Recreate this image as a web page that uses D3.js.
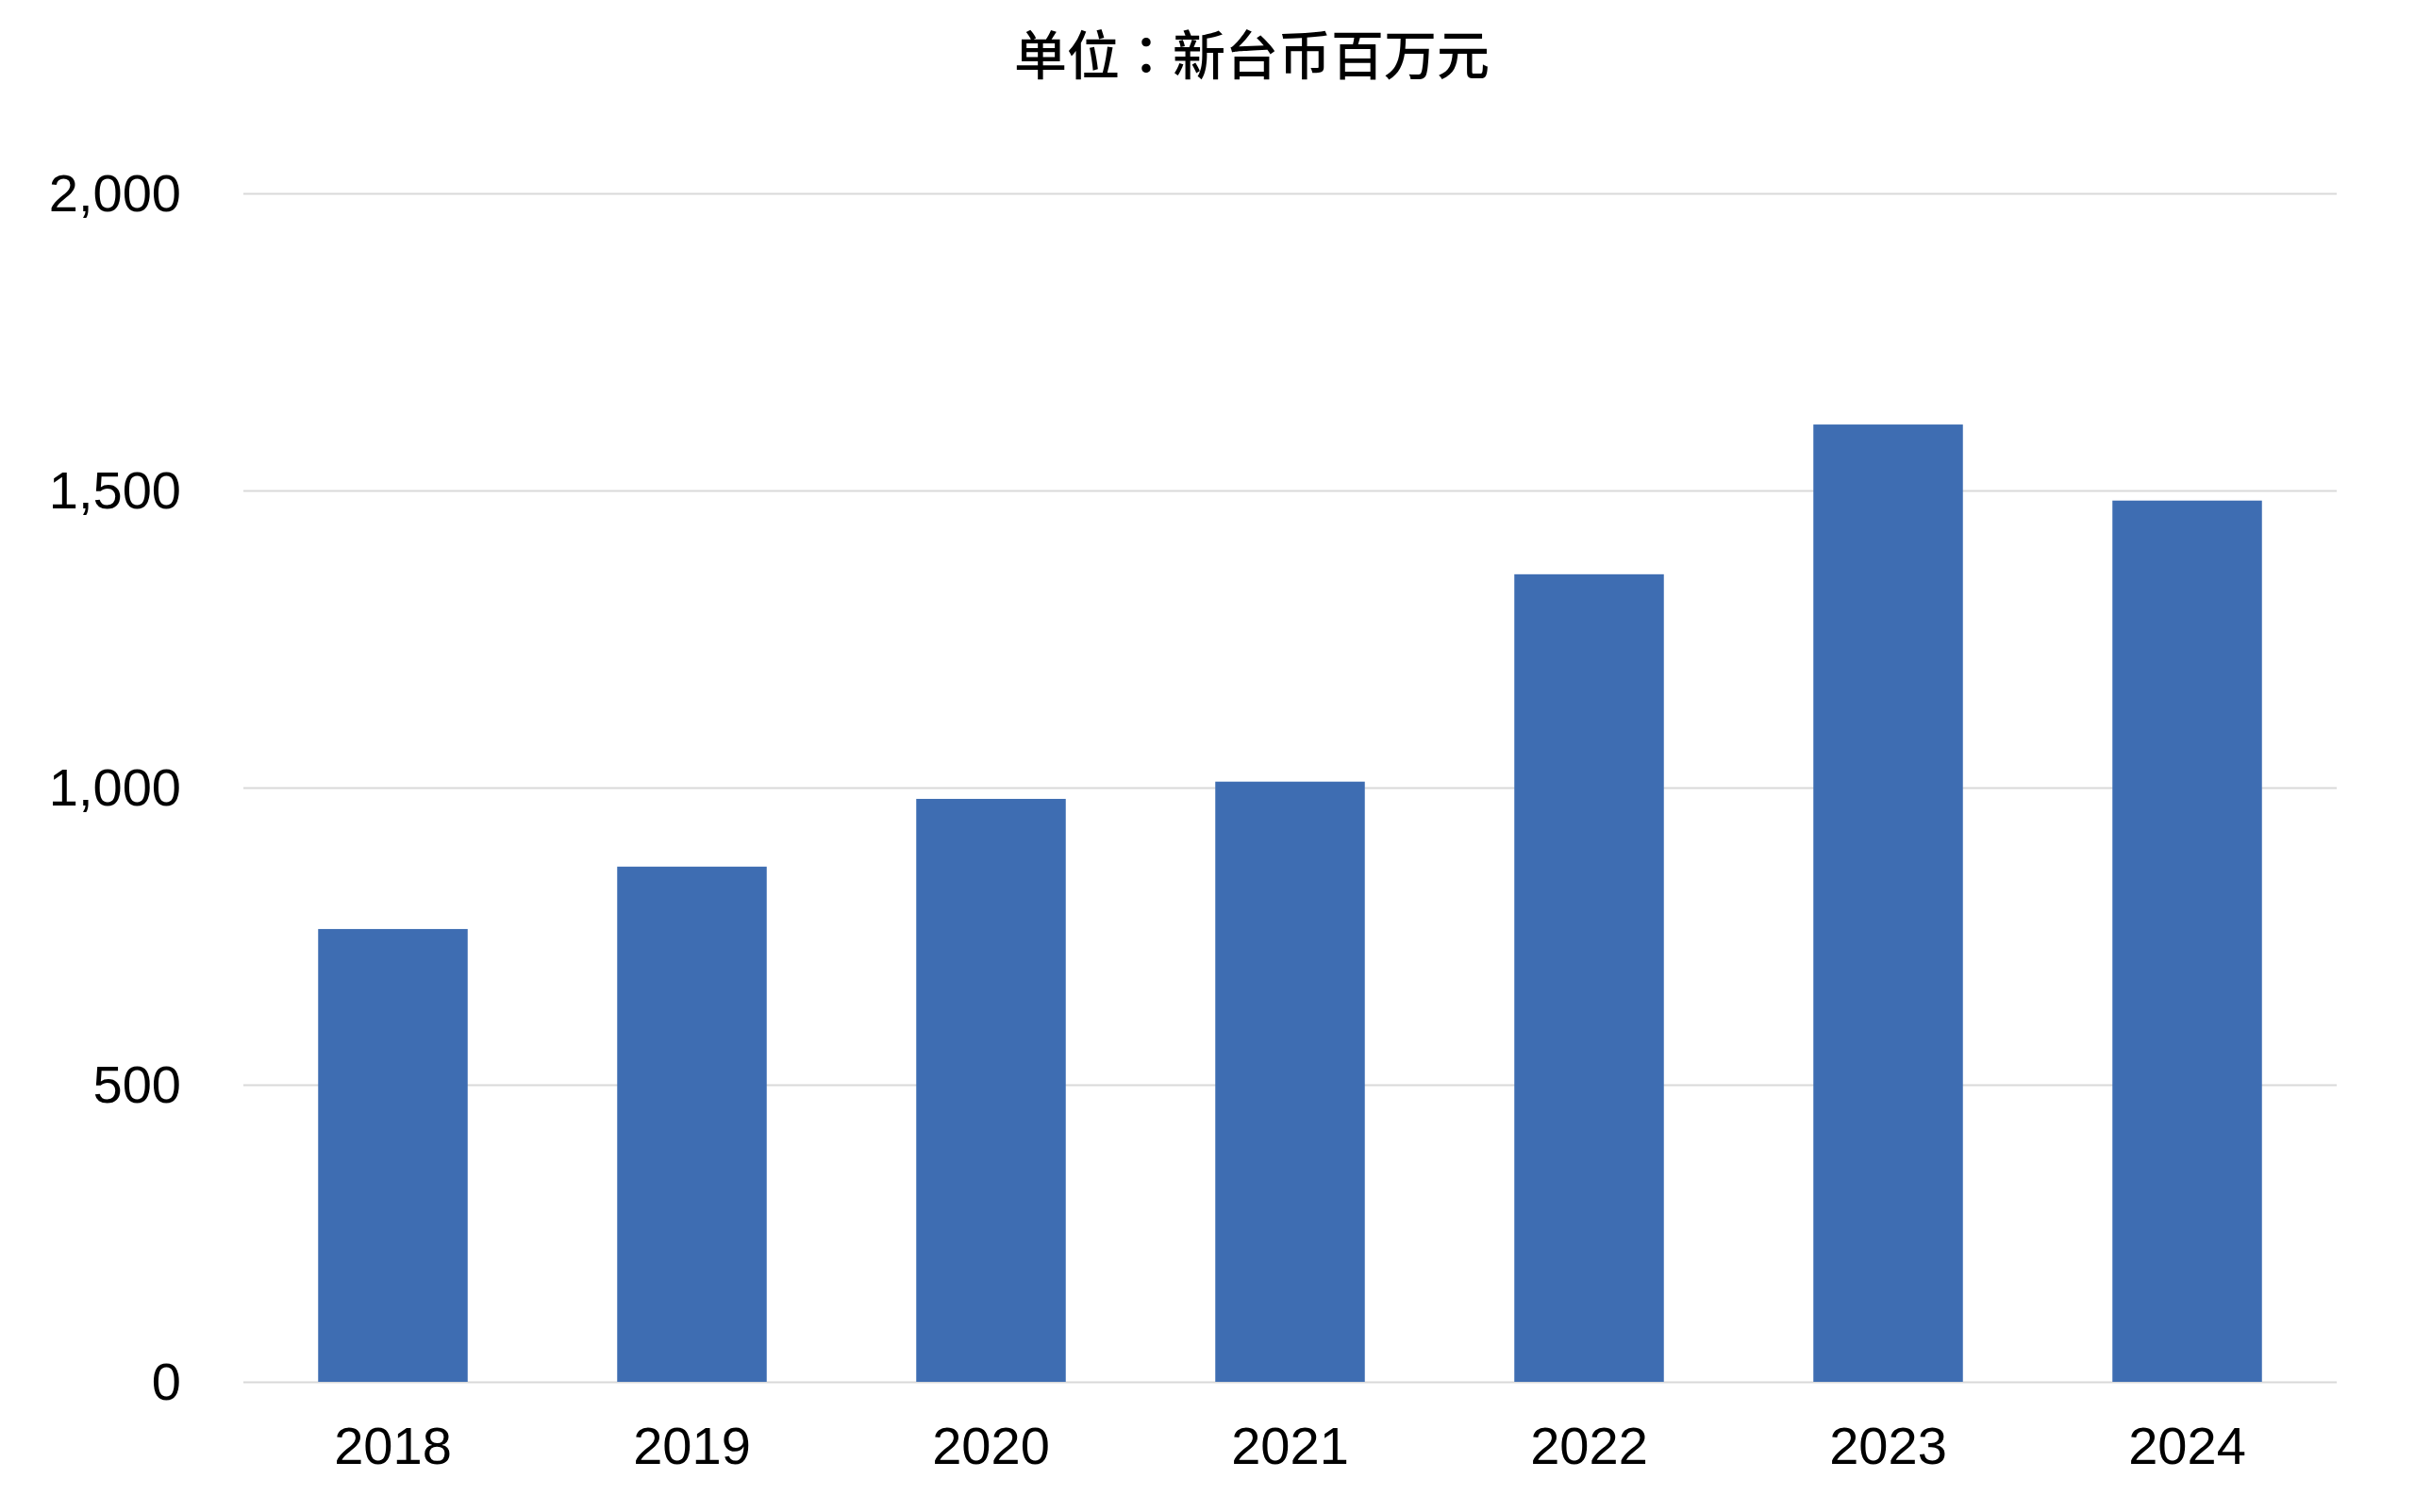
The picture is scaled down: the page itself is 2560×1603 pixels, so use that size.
<!DOCTYPE html>
<html><head><meta charset="utf-8">
<script src="https://cdn.jsdelivr.net/npm/d3@7"></script>
<style>html,body{margin:0;padding:0;background:#fff;}</style>
</head><body>
<svg id="chart" width="2560" height="1603"></svg>
<script>
const categories = ["2018","2019","2020","2021","2022","2023","2024"];
const values = [762, 867, 981, 1010, 1359, 1611, 1483];
const yTicks = [0, 500, 1000, 1500, 2000];
const title = "单位：新台币百万元";

(function(){
const svg = d3.select("#chart");
const mLeft = 258, mRight = 2477, mTop = 205, mBottom = 1465;

const x = d3.scaleBand().domain(categories).range([mLeft, mRight]).paddingInner(0.5).paddingOuter(0.25);
const y = d3.scaleLinear().domain([0, 2000]).range([mBottom, mTop]);

svg.append("rect").attr("width",2560).attr("height",1603).attr("fill","#fff");

// gridlines
svg.append("g").selectAll("line").data(yTicks).join("line")
  .attr("x1", mLeft).attr("x2", mRight)
  .attr("y1", d => Math.round(y(d)) + 0.5).attr("y2", d => Math.round(y(d)) + 0.5)
  .attr("stroke", "#d9d9d9").attr("stroke-width", 2);

// bars
svg.append("g").selectAll("rect").data(values).join("rect")
  .attr("x", (d,i) => x(categories[i]))
  .attr("width", x.bandwidth())
  .attr("y", d => y(d))
  .attr("height", d => y(0) - y(d))
  .attr("fill", "#3e6db2");

// y axis
const yAxis = d3.axisLeft(y).tickValues(yTicks).tickSize(0).tickPadding(0).tickFormat(d3.format(","));
const gy = svg.append("g").attr("transform", `translate(${mLeft - 66},0)`).call(yAxis);
gy.select(".domain").remove();
gy.selectAll("text").attr("font-family","'Liberation Sans', Arial, sans-serif").attr("font-size",56).attr("fill","#000").attr("dy","0.33em");

// x axis
const xAxis = d3.axisBottom(x).tickSize(0).tickPadding(0);
const gx = svg.append("g").attr("transform", `translate(0,${mBottom})`).call(xAxis);
gx.select(".domain").remove();
gx.selectAll("text").attr("font-family","'Liberation Sans', Arial, sans-serif").attr("font-size",56).attr("fill","#000").attr("dy",null).attr("y",87);

// title
svg.append("text").attr("x", 1327).attr("y", 79).attr("text-anchor","middle")
  .attr("font-family","'Noto Sans CJK TC', 'Noto Sans CJK SC', sans-serif").attr("font-weight",500).attr("font-size",56)
  .attr("fill","#000").text(title);
})();
</script>
</body></html>
